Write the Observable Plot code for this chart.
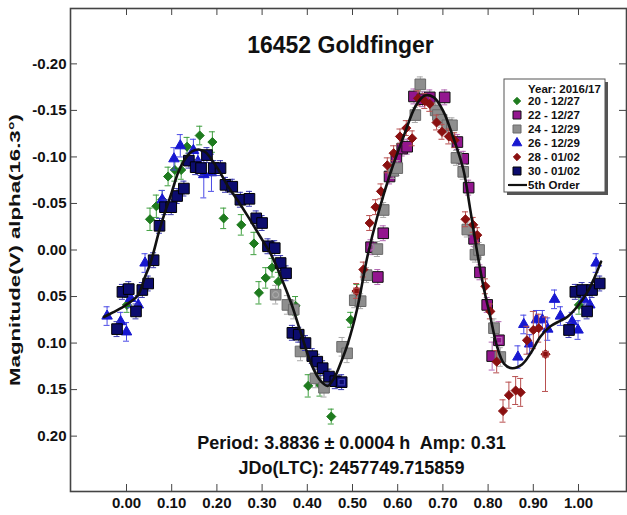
<!DOCTYPE html>
<html><head><meta charset="utf-8">
<script src="https://cdn.jsdelivr.net/npm/d3@7"></script>
<script src="https://cdn.jsdelivr.net/npm/@observablehq/plot@0.6"></script>
<style>body{margin:0;background:#fff;} #chart{width:627px;height:515px;}</style>
</head><body><div id="chart"></div>
<script>
const titleText = "16452 Goldfinger";
const periodText = "Period: 3.8836 \u00b1 0.0004 h  Amp: 0.31";
const jdText = "JDo(LTC): 2457749.715859";
const yLabel = "Magnitude(V) alpha(16.3\u00b0)";
const legendTitle = "Year: 2016/17";
const seriesNames = ["20 - 12/27", "22 - 12/27", "24 - 12/29", "26 - 12/29", "28 - 01/02", "30 - 01/02"];
const fitName = "5th Order";
const xTicks = [0, 0.1, 0.2, 0.3, 0.4, 0.5, 0.6, 0.7, 0.8, 0.9, 1.0];
const yTicks = [-0.2, -0.15, -0.1, -0.05, 0, 0.05, 0.1, 0.15, 0.2];

// [phase, magnitude, error]
const s20 = [[0.001,0.059,0.008],[0.052,-0.033,0.012],[0.066,-0.047,0.012],[0.079,-0.054,0.010],[0.092,-0.079,0.010],[0.107,-0.086,0.012],[0.121,-0.086,0.010],[0.134,-0.111,0.010],[0.162,-0.123,0.010],[0.190,-0.116,0.011],[0.215,-0.034,0.011],[0.254,-0.027,0.011],[0.282,-0.007,0.012],[0.293,0.046,0.012],[0.308,0.030,0.011],[0.322,0.019,0.010],[0.336,0.034,0.010],[0.374,0.060,0.010],[0.402,0.146,0.012],[0.428,0.145,0.012],[0.453,0.179,0.008],[0.496,0.075,0.008],[0.510,0.045,0.008],[1.001,0.059,0.010]];
const s22 = [[0.541,-0.003,0.008],[0.556,0.029,0.008],[0.568,-0.018,0.008],[0.582,-0.079,0.008],[0.597,-0.098,0.008],[0.610,-0.109,0.008],[0.621,-0.111,0.008],[0.636,-0.165,0.008],[0.655,-0.162,0.008],[0.671,-0.164,0.008],[0.704,-0.164,0.008],[0.732,-0.116,0.008],[0.745,-0.098,0.008],[0.757,-0.067,0.008],[0.769,-0.012,0.008],[0.782,0.024,0.008],[0.798,0.059,0.008],[0.809,0.114,0.015],[0.824,0.097,0.020]];
const s24 = [[0.330,0.048,0.010],[0.356,0.059,0.010],[0.370,0.064,0.010],[0.385,0.109,0.010],[0.418,0.138,0.010],[0.437,0.148,0.010],[0.477,0.104,0.010],[0.488,0.111,0.010],[0.505,0.054,0.008],[0.518,0.055,0.008],[0.531,0.027,0.008],[0.555,-0.001,0.008],[0.569,-0.043,0.008],[0.590,-0.085,0.008],[0.599,-0.088,0.008],[0.639,-0.145,0.008],[0.650,-0.178,0.008],[0.684,-0.150,0.008],[0.689,-0.145,0.008],[0.697,-0.140,0.008],[0.710,-0.134,0.008],[0.720,-0.134,0.008],[0.730,-0.099,0.008],[0.745,-0.084,0.008],[0.754,-0.022,0.008],[0.772,0.005,0.008],[0.780,0.000,0.008],[0.813,0.084,0.010],[0.827,0.115,0.010]];
const s26 = [[-0.043,0.071,0.010],[-0.013,0.077,0.010],[0.000,0.088,0.010],[0.009,0.052,0.010],[0.026,0.059,0.010],[0.041,0.014,0.010],[0.079,-0.054,0.010],[0.105,-0.098,0.012],[0.119,-0.112,0.012],[0.148,-0.107,0.012],[0.158,-0.095,0.012],[0.171,-0.081,0.025],[0.188,-0.083,0.020],[0.866,0.115,0.012],[0.879,0.080,0.010],[0.892,0.101,0.010],[0.907,0.075,0.010],[0.920,0.075,0.010],[0.932,0.085,0.012],[0.947,0.053,0.010],[0.960,0.071,0.010],[0.986,0.077,0.010],[0.999,0.086,0.010],[1.012,0.053,0.010],[1.025,0.059,0.010],[1.039,0.014,0.010]];
const s28 = [[0.509,0.044,0.008],[0.524,0.021,0.008],[0.538,-0.029,0.008],[0.551,-0.046,0.008],[0.563,-0.063,0.008],[0.577,-0.091,0.008],[0.591,-0.104,0.008],[0.605,-0.122,0.008],[0.619,-0.131,0.008],[0.632,-0.120,0.008],[0.645,-0.163,0.008],[0.660,-0.160,0.008],[0.671,-0.157,0.008],[0.686,-0.137,0.008],[0.698,-0.127,0.008],[0.713,-0.122,0.008],[0.726,-0.118,0.008],[0.750,-0.033,0.008],[0.767,-0.027,0.008],[0.776,-0.016,0.008],[0.794,0.039,0.008],[0.805,0.066,0.008],[0.819,0.120,0.012],[0.833,0.173,0.012],[0.846,0.156,0.014],[0.861,0.151,0.015],[0.872,0.153,0.015],[0.886,0.097,0.015],[0.900,0.086,0.020],[0.912,0.084,0.015],[0.927,0.112,0.040]];
const s30 = [[-0.021,0.085,0.008],[-0.009,0.045,0.008],[0.005,0.042,0.008],[0.021,0.066,0.008],[0.035,0.043,0.008],[0.048,0.036,0.008],[0.060,0.011,0.008],[0.073,-0.026,0.008],[0.085,-0.046,0.008],[0.099,-0.046,0.008],[0.112,-0.058,0.008],[0.127,-0.066,0.008],[0.138,-0.096,0.008],[0.153,-0.089,0.008],[0.165,-0.088,0.008],[0.178,-0.102,0.008],[0.193,-0.088,0.008],[0.208,-0.088,0.008],[0.219,-0.070,0.008],[0.234,-0.068,0.008],[0.252,-0.054,0.008],[0.272,-0.055,0.008],[0.287,-0.034,0.008],[0.300,-0.029,0.008],[0.313,-0.004,0.008],[0.328,-0.002,0.008],[0.341,0.014,0.008],[0.353,0.025,0.008],[0.367,0.089,0.008],[0.381,0.091,0.008],[0.396,0.100,0.008],[0.411,0.114,0.008],[0.422,0.120,0.008],[0.434,0.127,0.008],[0.448,0.136,0.008],[0.462,0.141,0.008],[0.476,0.142,0.008],[0.979,0.086,0.008],[0.993,0.045,0.008],[1.008,0.043,0.008],[1.019,0.066,0.008],[1.030,0.043,0.008],[1.047,0.036,0.008]];

// points drawn with an extra hollow marker in the picture: [phase, magnitude, marker, series index]
const flagged = [[0.330,0.048,"circle",2],[0.541,-0.003,"circle",1],[0.509,0.044,"square",4],[0.824,0.097,"square",1],[0.927,0.112,"square",4],[0.476,0.142,"square",5]];

// 5th order Fourier fit: [phase, magnitude]
const fit = [[-0.05,0.072],[-0.03,0.067],[-0.01,0.062],[0.005,0.057],[0.025,0.049],[0.04,0.030],[0.053,0.014],[0.075,-0.025],[0.10,-0.062],[0.115,-0.084],[0.13,-0.098],[0.145,-0.106],[0.16,-0.108],[0.175,-0.105],[0.19,-0.096],[0.205,-0.085],[0.225,-0.068],[0.245,-0.054],[0.27,-0.035],[0.295,-0.015],[0.32,0.005],[0.345,0.033],[0.365,0.058],[0.385,0.088],[0.41,0.124],[0.43,0.141],[0.445,0.146],[0.46,0.137],[0.475,0.120],[0.49,0.100],[0.51,0.064],[0.533,0.007],[0.555,-0.036],[0.584,-0.083],[0.613,-0.122],[0.64,-0.155],[0.66,-0.166],[0.68,-0.164],[0.70,-0.150],[0.72,-0.125],[0.745,-0.087],[0.76,-0.045],[0.775,0.000],[0.79,0.040],[0.805,0.072],[0.82,0.104],[0.835,0.122],[0.853,0.127],[0.875,0.123],[0.894,0.111],[0.916,0.093],[0.938,0.082],[0.96,0.076],[0.975,0.072],[0.997,0.061],[1.02,0.045],[1.035,0.030],[1.05,0.0125]];

const seriesData = [s20, s22, s24, s26, s28, s30];
const styles = [
  {symbol: "diamond2", r: 4.1, fill: "#1e7b1e", stroke: "#1e7b1e", err: "#3f9f3f"},
  {symbol: "square", r: 6, fill: "#93168f", stroke: "#111", err: "#b266b2"},
  {symbol: "square", r: 6, fill: "#8e8e8e", stroke: "#6a6a6a", err: "#a9a9a9"},
  {symbol: "triangle", r: 3.9, fill: "#1818d0", stroke: "#1818d0", err: "#4a4ae6"},
  {symbol: "diamond2", r: 4.1, fill: "#8a1010", stroke: "#8a1010", err: "#b85050"},
  {symbol: "square", r: 6, fill: "#0c0c6e", stroke: "#000", err: "#3a3ab0"}
];

const W = 627, H = 515, mL = 70, mR = 1, mT = 8, mB = 24;
const fw = W - mL - mR, fh = H - mT - mB;
const FONT = "'Liberation Sans', Arial, Helvetica, sans-serif";

const marks = [];
seriesData.forEach((arr, i) => {
  const st = styles[i];
  const rows = arr.map(([p, m, e]) => ({p, m, e}));
  marks.push(Plot.ruleX(rows, {x: "p", y1: d => d.m - d.e, y2: d => d.m + d.e, stroke: st.err, strokeWidth: 1}));
  marks.push(Plot.ruleY(rows, {y: d => d.m - d.e, x1: "p", x2: "p", insetLeft: -3, insetRight: -3, stroke: st.err, strokeWidth: 1}));
  marks.push(Plot.ruleY(rows, {y: d => d.m + d.e, x1: "p", x2: "p", insetLeft: -3, insetRight: -3, stroke: st.err, strokeWidth: 1}));
  marks.push(Plot.dot(rows, {x: "p", y: "m", symbol: st.symbol, r: st.r, fill: st.fill, stroke: st.stroke, strokeWidth: 1}));
});
const flagRows = flagged.map(([p, m, sym, s]) => ({p, m, sym, c: styles[s].err}));

const plot = Plot.plot({
  width: W, height: H,
  marginLeft: mL, marginRight: mR, marginTop: mT, marginBottom: mB,
  style: {fontFamily: FONT, background: "#fff"},
  x: {domain: [-0.1239, 1.1062]},
  y: {domain: [-0.2595, 0.2595], reverse: true},
  marks: [
    ...marks,
    Plot.dot(flagRows, {x: "p", y: "m", symbol: d => d.sym, r: d => d.sym === "square" ? 8.5 : 7.5, fill: "none", stroke: d => d.c, strokeWidth: 1.2}),
    Plot.line(fit, {x: d => d[0], y: d => d[1], stroke: "#111", strokeWidth: 2.6, curve: "catmull-rom"}),
    Plot.frame({stroke: "#444", strokeWidth: 1.6}),
    Plot.tickY(yTicks, {y: d => d, insetRight: fw - 7, stroke: "#444"}),
    Plot.tickY(yTicks, {y: d => d, insetLeft: fw - 7, stroke: "#444"}),
    Plot.tickX(xTicks, {x: d => d, insetTop: fh - 7, stroke: "#444"}),
    Plot.tickX(xTicks, {x: d => d, insetBottom: fh - 7, stroke: "#444"}),
    Plot.axisX({ticks: xTicks, tickSize: 0, tickPadding: 6, tickFormat: d => d.toFixed(2), fontSize: 15, fontWeight: "bold", fill: "#111", label: null}),
    Plot.axisY({ticks: yTicks, tickSize: 0, tickPadding: 4, tickFormat: d => d.toFixed(2), fontSize: 15, fontWeight: "bold", fill: "#111", label: null}),
    Plot.text([yLabel], {text: d => d, frameAnchor: "left", textAnchor: "middle", lineAnchor: "middle", dx: -55, rotate: -90, fontSize: 14.5, fontWeight: "bold", fill: "#111"}),
    Plot.text([titleText], {text: d => d, frameAnchor: "top", textAnchor: "middle", lineAnchor: "middle", dx: -8, dy: 37, fontSize: 23, fontWeight: "bold", fill: "#111"}),
    Plot.text([periodText], {text: d => d, frameAnchor: "bottom", textAnchor: "middle", lineAnchor: "middle", dx: 3, dy: -48, fontSize: 18, fontWeight: "bold", fill: "#111"}),
    Plot.text([jdText], {text: d => d, frameAnchor: "bottom", textAnchor: "middle", lineAnchor: "middle", dx: 3, dy: -23, fontSize: 18, fontWeight: "bold", fill: "#111"})
  ]
});
document.getElementById("chart").appendChild(plot);

const svg = d3.select(plot);
// the source image is horizontally compressed: stretch the rotated label to its length there
svg.selectAll("text").filter(function() { return this.textContent === yLabel; })
  .attr("textLength", 272).attr("lengthAdjust", "spacingAndGlyphs");

// legend
const lg = svg.append("g").attr("font-family", FONT).attr("font-weight", "bold").attr("font-size", 11.5).attr("fill", "#111").attr("text-anchor", "start");
const bx = 504, by = 79, bw = 101, bh = 113;
lg.append("rect").attr("x", bx + 3).attr("y", by + 3).attr("width", bw).attr("height", bh).attr("fill", "#555");
lg.append("rect").attr("x", bx).attr("y", by).attr("width", bw).attr("height", bh).attr("fill", "#fff").attr("stroke", "#555").attr("stroke-width", 1);
lg.append("text").attr("x", 528).attr("y", 88.5).attr("dy", "0.36em").text(legendTitle);
const legSym = {diamond2: d3.symbolDiamond2, square: d3.symbolSquare, triangle: d3.symbolTriangle};
const legSize = {diamond2: 34, square: 64, triangle: 40};
seriesNames.forEach((name, i) => {
  const y = 101 + 14 * i;
  const st = styles[i];
  lg.append("path").attr("transform", `translate(517,${y})`)
    .attr("d", d3.symbol(legSym[st.symbol], legSize[st.symbol])())
    .attr("fill", st.fill).attr("stroke", st.stroke).attr("stroke-width", 1);
  lg.append("text").attr("x", 528).attr("y", y).attr("dy", "0.36em").text(name);
});
const yl = 101 + 14 * 6;
lg.append("line").attr("x1", 508).attr("x2", 527).attr("y1", yl).attr("y2", yl).attr("stroke", "#111").attr("stroke-width", 2.2);
lg.append("text").attr("x", 528).attr("y", yl).attr("dy", "0.36em").text(fitName);
</script>
</body></html>
